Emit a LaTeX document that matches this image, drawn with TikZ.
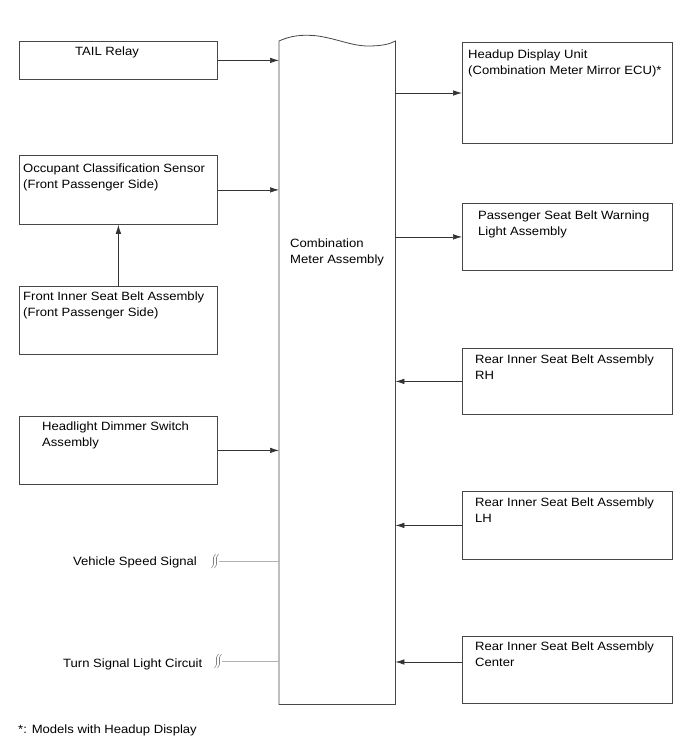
\documentclass[tikz,border=0pt]{standalone}
\usepackage{fontspec}
\setmainfont{Liberation Sans}[FakeStretch=1.09]
\usetikzlibrary{arrows.meta}
\begin{document}
\begin{tikzpicture}[x=1pt,y=-1pt,
  box/.style={draw=black!72, line width=0.8pt, rectangle, inner sep=0pt, anchor=north west},
  lbl/.style={anchor=base west, inner sep=0pt, align=left, font=\fontsize{12}{16}\selectfont, text=black},
  arr/.style={draw=black!80, line width=0.7pt, -{Latex[length=9pt,width=5.5pt]}},
  sig/.style={draw=black!30, line width=0.8pt},
  brk/.style={draw=black!50, line width=0.55pt},
  brksym/.pic={
    \draw[brk] (2,-7) .. controls (-3,-3) and (3,3) .. (-2,7);
    \draw[brk] (5,-7) .. controls (0,-3) and (6,3) .. (1,7);
  }]
\useasboundingbox (0,0) rectangle (690,756);

% central bar
\node[inner sep=0pt, minimum width=116pt, minimum height=663pt, anchor=north west] (bar) at (279,41) {};
\draw[draw=black!72, line width=0.8pt] (bar.south west) -- (bar.north west)
  .. controls (290,36) and (302,34) .. (318,36)
  .. controls (338,39) and (352,46) .. (368,46)
  .. controls (382,46) and (390,44) .. (bar.north east)
  -- (bar.south east) -- cycle;
\node[lbl] (comb) at (290,263) {Combination\\Meter Assembly};

% left boxes
\node[box, minimum width=198pt, minimum height=38pt] (tail) at (19,41) {};
\node[lbl] (tailt) at (75,55) {TAIL Relay};
\node[box, minimum width=198pt, minimum height=69pt] (occ) at (19,155) {};
\node[lbl] (occt) at (23,188) {Occupant Classification Sensor\\(Front Passenger Side)};
\node[box, minimum width=198pt, minimum height=68pt] (fib) at (19,286) {};
\node[lbl] (fibt) at (23,316) {Front Inner Seat Belt Assembly\\(Front Passenger Side)};
\node[box, minimum width=198pt, minimum height=68pt] (hl) at (19,416) {};
\node[lbl] (hlt) at (42,446) {Headlight Dimmer Switch\\Assembly};

% right boxes
\node[box, minimum width=210pt, minimum height=101pt] (hud) at (462,42) {};
\node[lbl] (hudt) at (468,74) {Headup Display Unit\\(Combination Meter Mirror ECU)*};
\node[box, minimum width=210pt, minimum height=67pt] (psb) at (462,203) {};
\node[lbl] (psbt) at (478,235) {Passenger Seat Belt Warning\\Light Assembly};
\node[box, minimum width=210pt, minimum height=66pt] (rrh) at (462,348) {};
\node[lbl] (rrht) at (475,379) {Rear Inner Seat Belt Assembly\\RH};
\node[box, minimum width=210pt, minimum height=68pt] (rlh) at (462,491) {};
\node[lbl] (rlht) at (475,522) {Rear Inner Seat Belt Assembly\\LH};
\node[box, minimum width=210pt, minimum height=67pt] (rc) at (462,636) {};
\node[lbl] (rct) at (475,666) {Rear Inner Seat Belt Assembly\\Center};

% arrows
\draw[arr] (tail.east) -- (tail.east -| bar.west);
\draw[arr] (occ.east) -- (occ.east -| bar.west);
\draw[arr] (fib.north) -- (occ.south);
\draw[arr] (hl.east) -- (hl.east -| bar.west);
\coordinate (hudin) at (462,93);
\draw[arr] (hudin -| bar.east) -- (hudin);
\draw[arr] (psb.west -| bar.east) -- (psb.west);
\draw[arr] (rrh.west) -- (rrh.west -| bar.east);
\draw[arr] (rlh.west) -- (rlh.west -| bar.east);
\coordinate (rcin) at (462,662);
\draw[arr] (rcin) -- (rcin -| bar.east);

% signals
\node[lbl] (vss) at (73,565) {Vehicle Speed Signal};
\pic at (213.5,561) {brksym};
\coordinate (vssb) at (219,561);
\draw[sig] (vssb) -- (vssb -| bar.west);
\node[lbl] (tsl) at (63,667) {Turn Signal Light Circuit};
\pic at (216.5,661) {brksym};
\coordinate (tslb) at (222,661);
\draw[sig] (tslb) -- (tslb -| bar.west);

% footnote
\node[lbl] (fn) at (18,733) {*: Models with Headup Display};
\end{tikzpicture}
\end{document}
